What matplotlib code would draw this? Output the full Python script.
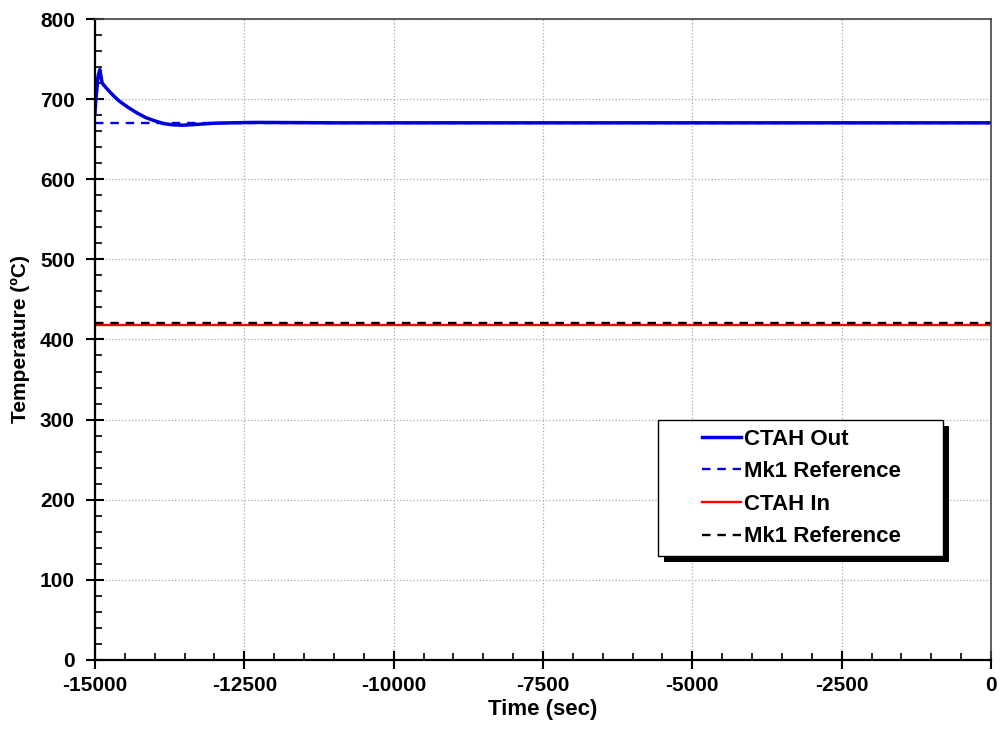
import matplotlib
matplotlib.use("Agg")
import numpy as np
import matplotlib.pyplot as plt
from matplotlib.ticker import MultipleLocator
from matplotlib.legend_handler import HandlerLine2D
from matplotlib.patches import Rectangle

plt.rcParams['font.family'] = ['Liberation Sans', 'DejaVu Sans']
plt.rcParams['font.weight'] = 'bold'
plt.rcParams['axes.unicode_minus'] = False

# CTAH outlet temperature
time_out = [-15000, -14985, -14950, -14920, -14880, -14800, -14700, -14600, -14450,
            -14300, -14150, -14000, -13850, -13700, -13550, -13400, -13200, -13000,
            -12700, -12300, -11000, -8000, -4000, 0]
temp_out = [683, 700, 728, 737, 720, 713, 705, 698, 690,
            683, 677, 673, 669.5, 668, 667.5, 668, 669, 670,
            670.5, 671, 670.5, 670.5, 670.5, 670.5]

# CTAH inlet temperature (flat)
time_in = [-15000, 0]
temp_in = [418.5, 418.5]

# Mk1 reference values
ref_out = 670
ref_in = 420

dash = (0, (3.6, 2.9))


class RightLine(HandlerLine2D):
    # draw the legend line only on the right part of the handle box
    def create_artists(self, legend, orig_handle, xdescent, ydescent, width, height, fontsize, trans):
        arts = super().create_artists(legend, orig_handle, xdescent, ydescent,
                                      width, height, fontsize, trans)
        for a in arts:
            x = np.asarray(a.get_xdata(), dtype=float)
            a.set_xdata(np.linspace(width - 28.5, width, len(x)))
        return arts


fig, ax = plt.subplots(figsize=(10, 7.34), dpi=100)
fig.subplots_adjust(left=0.095, right=0.991, top=0.974, bottom=0.101)

ax.plot(time_out, temp_out, color='#0000dd', lw=2.5, label='CTAH Out')
ax.plot([-15000, 0], [ref_out, ref_out], color='#0000dd', lw=1.7, ls=dash, label='Mk1 Reference')
ax.plot(time_in, temp_in, color='#ff0000', lw=1.7, label='CTAH In')
ax.plot([-15000, 0], [ref_in, ref_in], color='black', lw=1.7, ls=dash, label='Mk1 Reference')

ax.set_xlim(-15000, 0)
ax.set_ylim(0, 800)
ax.xaxis.set_major_locator(MultipleLocator(2500))
ax.xaxis.set_minor_locator(MultipleLocator(500))
ax.yaxis.set_major_locator(MultipleLocator(100))
ax.yaxis.set_minor_locator(MultipleLocator(20))

ax.tick_params(which='major', direction='inout', length=13, width=1.5, labelsize=15, pad=5)
ax.tick_params(which='minor', direction='in', length=5, width=1.2)
ax.tick_params(axis='y', which='major', pad=8)
for lab in ax.get_xticklabels() + ax.get_yticklabels():
    lab.set_fontweight('bold')

ax.grid(True, which='major', color='#aaaaaa', ls=':', lw=0.9)

for side in ['top', 'right']:
    ax.spines[side].set_linewidth(1.2)
    ax.spines[side].set_color('#444444')
for side in ['left', 'bottom']:
    ax.spines[side].set_linewidth(1.6)

ax.set_xlabel('Time (sec)', fontsize=16, fontweight='bold', labelpad=3)
ax.set_ylabel('Temperature (ºC)', fontsize=15, fontweight='bold', labelpad=7)

leg = ax.legend(loc='upper left', bbox_to_anchor=(0.628, 0.374, 0.318, 0.0), mode='expand',
                handler_map={plt.Line2D: RightLine()},
                fontsize=16, frameon=True, fancybox=False,
                handlelength=3.38, handletextpad=0.14, labelspacing=0.52, borderpad=0.38,
                borderaxespad=0)
leg.set_zorder(6)
frame = leg.get_frame()
frame.set_edgecolor('black')
frame.set_linewidth(1.0)
frame.set_alpha(1.0)
for t in leg.get_texts():
    t.set_fontweight('bold')

# offset shadow behind the legend box
fig.canvas.draw()
bb = leg.get_window_extent()
shadow = Rectangle((bb.x0 + 6, bb.y0 - 6), bb.width, bb.height, transform=None,
                   facecolor='black', edgecolor='none', zorder=5.5, clip_on=False)
ax.add_artist(shadow)

fig.savefig('out.png', dpi=100)
